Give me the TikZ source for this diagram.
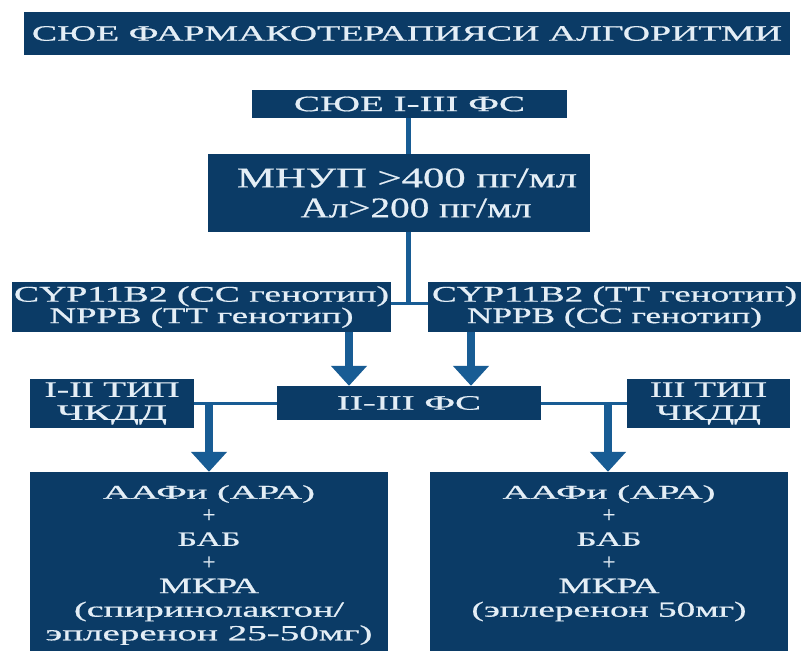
\documentclass[tikz,border=0pt]{standalone}
\usepackage{fontspec}
\setmainfont{Liberation Serif}[FakeBold=0.6]
\usepackage{graphicx}
\usetikzlibrary{arrows.meta}
\definecolor{boxc}{RGB}{11,59,102}
\definecolor{linec}{RGB}{24,92,148}
\definecolor{txtc}{RGB}{228,238,246}
\newcommand\ft[3]{\resizebox{#1pt}{#2pt}{#3}}
\newcommand\plusl{{\fontsize{23}{23}\selectfont\raisebox{0pt}{+}}}
\begin{document}
\begin{tikzpicture}[x=1pt,y=-1pt,
  box/.style={fill=boxc, draw=none, inner sep=0pt, text=txtc, align=center},
  txt/.style={inner sep=0pt, text=txtc, align=center},
  conn/.style={draw=linec, line width=3pt},
  thick conn/.style={draw=linec, line width=5pt},
  bigarrow/.style={draw=linec, line width=8pt, -{Triangle[width=35pt,length=20pt]}}
]
\useasboundingbox[fill=white] (0,0) rectangle (805,651);

% title
\node[box, minimum width=766pt, minimum height=43pt] (title) at (407,33.5)
  {\ft{750}{14.5}{СЮЕ ФАРМАКОТЕРАПИЯСИ АЛГОРИТМИ}};

% top box
\node[box, minimum width=315pt, minimum height=28pt] (top) at (409.5,104)
  {\raisebox{-1.5pt}{\ft{231}{14.5}{СЮЕ I-III ФС}}};

% MNUP box
\node[box, minimum width=382pt, minimum height=78pt, font=\fontsize{20}{30}\selectfont] (mnup) at (399,193)
  {\hspace*{16pt}\ft{340}{19}{МНУП >400 пг/мл}\\ \hspace*{34pt}\ft{231}{19}{Ал>200 пг/мл}};

% genotype boxes
\node[box, minimum width=379pt, minimum height=50pt, font=\fontsize{15}{21.5}\selectfont] (gl) at (201.5,307)
  {\ft{375}{15.5}{CYP11B2 (CC генотип)}\\ \ft{304}{15.5}{NPPB (TT генотип)}};
\node[box, minimum width=373pt, minimum height=50pt, font=\fontsize{15}{21.5}\selectfont] (gr) at (614.5,307)
  {\ft{365}{15.5}{CYP11B2 (TT генотип)}\\ \ft{295}{15.5}{NPPB (CC генотип)}};

% middle row
\node[box, minimum width=264pt, minimum height=34pt] (mid) at (409,403)
  {\ft{144}{13.5}{II-III ФС}};
\node[box, minimum width=164pt, minimum height=49pt, font=\fontsize{15}{23}\selectfont] (t1) at (112,403.5)
  {\ft{135}{14.5}{I-II ТИП}\\ \ft{110}{14.5}{ЧКДД}};
\node[box, minimum width=163pt, minimum height=49pt, font=\fontsize{15}{23}\selectfont] (t3) at (708.5,403.5)
  {\ft{117}{14.5}{III ТИП}\\ \ft{105}{14.5}{ЧКДД}};

% bottom boxes
\node[box, minimum width=358pt, minimum height=179pt] (bl) at (209,561.5) {};
\node[box, minimum width=358pt, minimum height=179pt] (br) at (609,561.5) {};
\node[txt, anchor=north, font=\fontsize{20}{23.6}\selectfont] (blt) at (209,485)
  {\ft{212}{13.5}{ААФи (АРА)}\\ \plusl\\ \ft{63}{13.5}{БАБ}\\ \plusl\\
   \ft{100}{14.5}{МКРА}\\ \ft{270}{15}{(спиринолактон/}\\ \ft{327}{15}{эплеренон 25-50мг)}};
\node[txt, anchor=north, font=\fontsize{20}{23.6}\selectfont] (brt) at (609,485)
  {\ft{213}{13.5}{ААФи (АРА)}\\ \plusl\\ \ft{65}{13.5}{БАБ}\\ \plusl\\
   \ft{101}{14.5}{МКРА}\\ \ft{275}{15}{(эплеренон 50мг)}};

% connectors
\coordinate (vx) at (408,0);
\coordinate (split) at (408,303);
\draw[thick conn] (top.south -| vx) -- (mnup.north -| vx);
\draw[thick conn] (mnup.south -| vx) -- (split);
\draw[conn] (gl.east |- split) -- (gr.west |- split);

\coordinate (a1) at (349,0);
\coordinate (a2) at (471,0);
\draw[bigarrow] (gl.south -| a1) -- (mid.north -| a1);
\draw[bigarrow] (gr.south -| a2) -- (mid.north -| a2);

\draw[conn] (t1.east |- mid.west) -- (mid.west);
\draw[conn] (mid.east) -- (t3.west |- mid.east);

\coordinate (jl) at (209,403);
\coordinate (jr) at (608,403);
\draw[bigarrow] (jl) -- (bl.north -| jl);
\draw[bigarrow] (jr) -- (br.north -| jr);
\end{tikzpicture}
\end{document}
